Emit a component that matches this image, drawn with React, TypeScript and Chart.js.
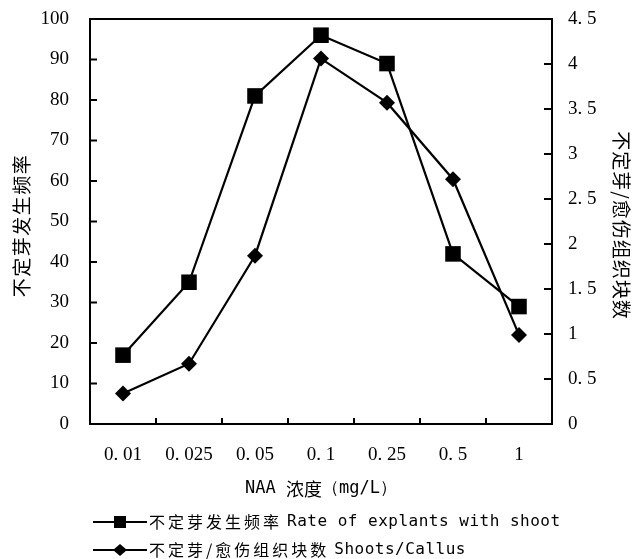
import React, { useEffect, useRef } from 'react';
import { Chart, registerables } from 'chart.js';

Chart.register(...registerables);

const categories = ['0.01', '0.025', '0.05', '0.1', '0.25', '0.5', '1'];
const rateValues = [17, 35, 81, 96, 89, 42, 29];
const shootsValues = [0.34, 0.67, 1.87, 4.06, 3.57, 2.72, 0.99];

const leftMin = 0;
const leftMax = 100;
const leftStep = 10;
const rightMin = 0;
const rightMax = 4.5;
const rightStep = 0.5;

const leftTitle = '不定芽发生频率';
const rightTitle = '不定芽/愈伤组织块数';
const xTitle = ['NAA ', '浓度', '（mg/L）'];
const rateLegend = ['不定芽发生频率', 'Rate of explants with shoot'];
const shootsLegend = ['不定芽/愈伤组织块数', 'Shoots/Callus'];

const W = 632;
const H = 559;

const tickFont = { family: "'Liberation Serif', 'DejaVu Serif', serif", size: 19 };
const CJK = "'Noto Sans CJK SC', sans-serif";
const MONO = "'DejaVu Sans Mono', monospace";

const fmtDot = (s: string) => s.replace('.', '. ');

const framePlugin = {
  id: 'frameAndText',
  afterDraw(chart: any) {
    const { ctx, chartArea: a, scales } = chart;
    ctx.save();
    ctx.strokeStyle = '#000';
    ctx.fillStyle = '#000';
    ctx.lineWidth = 2;
    ctx.strokeRect(a.left, a.top, a.right - a.left, a.bottom - a.top);

    // inward tick marks
    ctx.lineWidth = 2;
    ctx.beginPath();
    scales.y.ticks.forEach((t: any) => {
      const y = scales.y.getPixelForValue(t.value);
      ctx.moveTo(a.left, y);
      ctx.lineTo(a.left + 7, y);
    });
    scales.y1.ticks.forEach((t: any) => {
      const y = scales.y1.getPixelForValue(t.value);
      ctx.moveTo(a.right - 8, y);
      ctx.lineTo(a.right, y);
    });
    for (let i = 0; i < categories.length - 1; i++) {
      const x = (scales.x.getPixelForValue(i) + scales.x.getPixelForValue(i + 1)) / 2;
      ctx.moveTo(x, a.bottom);
      ctx.lineTo(x, a.bottom - 6);
    }
    ctx.stroke();

    const midY = (a.top + a.bottom) / 2 + 4;

    // left title
    ctx.save();
    ctx.translate(22, midY);
    ctx.rotate(-Math.PI / 2);
    ctx.font = `19px ${CJK}`;
    ctx.textAlign = 'center';
    ctx.textBaseline = 'middle';
    (ctx as any).letterSpacing = '1.5px';
    ctx.fillText(leftTitle, 0, 0);
    ctx.restore();

    // right title
    ctx.save();
    ctx.translate(621, midY);
    ctx.rotate(Math.PI / 2);
    ctx.font = `19px ${CJK}`;
    ctx.textAlign = 'center';
    ctx.textBaseline = 'middle';
    (ctx as any).letterSpacing = '1px';
    ctx.fillText(rightTitle, 0, 0);
    ctx.restore();

    // x title
    ctx.save();
    ctx.textBaseline = 'middle';
    ctx.textAlign = 'left';
    const parts = [
      { t: xTitle[0], f: `17px ${MONO}` },
      { t: xTitle[1], f: `18px ${CJK}` },
      { t: xTitle[2], f: `17px ${MONO}` },
    ];
    let total = 0;
    parts.forEach((p) => {
      ctx.font = p.f;
      total += ctx.measureText(p.t).width;
    });
    let x = (a.left + a.right) / 2 - total / 2;
    parts.forEach((p) => {
      ctx.font = p.f;
      ctx.fillText(p.t, x, 489);
      x += ctx.measureText(p.t).width;
    });
    ctx.restore();

    // legend
    const rows = [
      { y: 522, label: rateLegend, marker: 'rect' },
      { y: 550, label: shootsLegend, marker: 'diamond' },
    ];
    rows.forEach((r) => {
      ctx.lineWidth = 2;
      ctx.beginPath();
      ctx.moveTo(93, r.y);
      ctx.lineTo(147, r.y);
      ctx.stroke();
      const cx = 120;
      ctx.beginPath();
      if (r.marker === 'rect') {
        ctx.rect(cx - 6, r.y - 6, 12, 12);
      } else {
        ctx.moveTo(cx - 7, r.y);
        ctx.lineTo(cx, r.y - 6);
        ctx.lineTo(cx + 7, r.y);
        ctx.lineTo(cx, r.y + 6);
        ctx.closePath();
      }
      ctx.fill();
      ctx.textBaseline = 'middle';
      ctx.textAlign = 'left';
      ctx.font = `16px ${CJK}`;
      (ctx as any).letterSpacing = '3px';
      ctx.fillText(r.label[0], 149, r.y);
      const w = ctx.measureText(r.label[0]).width;
      ctx.font = `16px ${MONO}`;
      (ctx as any).letterSpacing = '0.5px';
      ctx.fillText(r.label[1], 149 + w + 5, r.y);
      (ctx as any).letterSpacing = '0px';
    });

    ctx.restore();
  },
};

export default function App() {
  const ref = useRef<HTMLCanvasElement | null>(null);

  useEffect(() => {
    if (!ref.current) return;
    const chart = new Chart(ref.current, {
      type: 'line',
      data: {
        labels: categories,
        datasets: [
          {
            label: rateLegend.join(' '),
            data: rateValues,
            yAxisID: 'y',
            borderColor: '#000',
            backgroundColor: '#000',
            borderWidth: 2.2,
            pointStyle: 'rect',
            pointRadius: 11,
            pointBorderWidth: 0,
            tension: 0,
          },
          {
            label: shootsLegend.join(' '),
            data: shootsValues,
            yAxisID: 'y1',
            borderColor: '#000',
            backgroundColor: '#000',
            borderWidth: 2.2,
            pointStyle: 'rectRot',
            pointRadius: 8,
            pointBorderWidth: 0,
            tension: 0,
          },
        ],
      },
      options: {
        responsive: false,
        animation: false,
        layout: { padding: { top: 19, left: 0, right: 0, bottom: 0 } },
        plugins: {
          legend: { display: false },
          tooltip: { enabled: false },
          title: { display: false },
        },
        scales: {
          x: {
            type: 'category',
            offset: true,
            grid: { display: false, drawTicks: false },
            border: { display: false },
            ticks: {
              font: tickFont,
              color: '#000',
              padding: 20,
              maxRotation: 0,
              autoSkip: false,
              callback: (_v: any, i: number) => fmtDot(categories[i]),
            },
            afterFit: (s: any) => {
              s.height = H - 424;
              s.paddingLeft = 0;
              s.paddingRight = 0;
            },
          },
          y: {
            position: 'left',
            min: leftMin,
            max: leftMax,
            grid: { display: false, drawTicks: false },
            border: { display: false },
            ticks: {
              stepSize: leftStep,
              font: tickFont,
              color: '#000',
              padding: 21,
            },
            afterFit: (s: any) => {
              s.width = 90;
              s.paddingTop = 0;
              s.paddingBottom = 0;
            },
          },
          y1: {
            position: 'right',
            min: rightMin,
            max: rightMax,
            grid: { display: false, drawTicks: false },
            border: { display: false },
            ticks: {
              stepSize: rightStep,
              font: tickFont,
              color: '#000',
              padding: 16,
              callback: (v: any) => fmtDot(String(Number(v))),
            },
            afterFit: (s: any) => {
              s.width = W - 552;
              s.paddingTop = 0;
              s.paddingBottom = 0;
            },
          },
        },
      },
      plugins: [framePlugin],
    } as any);
    return () => chart.destroy();
  }, []);

  return (
    <div style={{ position: 'fixed', left: 0, top: 0, width: W, height: H, background: '#fff' }}>
      <canvas ref={ref} width={W} height={H} style={{ display: 'block' }} />
    </div>
  );
}
